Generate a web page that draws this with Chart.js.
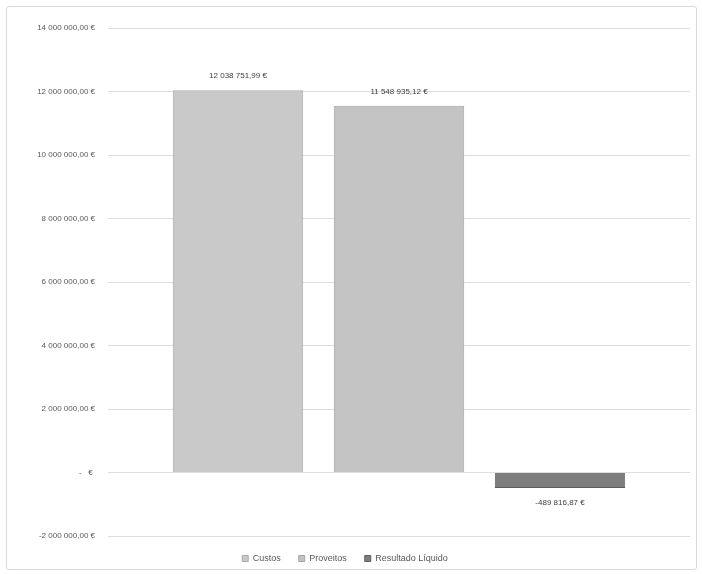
<!DOCTYPE html>
<html>
<head>
<meta charset="utf-8">
<script src="https://cdn.jsdelivr.net/npm/chart.js@4"></script>
<style>
  body { margin: 0; background: #fff; overflow: hidden; }
  #frame { position: absolute; left: 6px; top: 6px; width: 689px; height: 562px; border: 1px solid #d9d9d9; border-radius: 3px; }
  #chart { position: absolute; left: 0; top: 0; display: block; }
</style>
</head>
<body>
<div id="frame"></div>
<canvas id="chart" width="702" height="580"></canvas>
<script>
// series (one value each, single category)
const seriesNames = ['Custos', 'Proveitos', 'Resultado Líquido'];
const seriesValues = [12038751.99, 11548935.12, -489816.87];
const valueLabels = ['12 038 751,99 €', '11 548 935,12 €', '-489 816,87 €'];
const barColors = ['#c9c9c9', '#c3c3c3', '#7d7d7d'];
const barBorders = ['#a9a9a9', '#a3a3a3', '#5e5e5e'];

// y axis ticks
const yTicks = [-2000000, 0, 2000000, 4000000, 6000000, 8000000, 10000000, 12000000, 14000000];
const yTickLabels = ['-2 000 000,00 €', ' -   € ', '2 000 000,00 €', '4 000 000,00 €', '6 000 000,00 €',
  '8 000 000,00 €', '10 000 000,00 €', '12 000 000,00 €', '14 000 000,00 €'];

const datasets = seriesNames.map((name, i) => ({
  label: name,
  data: [seriesValues[i]],
  backgroundColor: barColors[i],
  borderColor: barBorders[i],
  borderWidth: 1,
  categoryPercentage: 0.83,
  barPercentage: 0.81
}));

// draws the value above (or below, if negative) each bar
const valueLabelPlugin = {
  id: 'valueLabels',
  afterDatasetsDraw(chart) {
    const ctx = chart.ctx;
    ctx.save();
    ctx.font = '8px "Liberation Sans", Arial, sans-serif';
    ctx.fillStyle = '#404040';
    ctx.textAlign = 'center';
    chart.data.datasets.forEach((ds, i) => {
      const bar = chart.getDatasetMeta(i).data[0];
      if (seriesValues[i] >= 0) {
        ctx.textBaseline = 'bottom';
        ctx.fillText(valueLabels[i], bar.x, bar.y - 10);
      } else {
        ctx.textBaseline = 'top';
        ctx.fillText(valueLabels[i], bar.x, bar.y + 11);
      }
    });
    ctx.restore();
  }
};

new Chart(document.getElementById('chart'), {
  type: 'bar',
  data: { labels: [''], datasets },
  plugins: [valueLabelPlugin],
  options: {
    responsive: false,
    animation: false,
    layout: { padding: { top: 28, right: 12, left: 0, bottom: 7 } },
    scales: {
      x: { display: false },
      y: {
        min: -2000000,
        max: 14000000,
        afterBuildTicks: axis => { axis.ticks = yTicks.map(v => ({ value: v })); },
        afterFit: axis => { axis.width = 108; },
        border: { display: false },
        grid: { color: '#dedede', drawTicks: false },
        ticks: {
          padding: 13,
          color: '#595959',
          font: { size: 8, family: '"Liberation Sans", Arial, sans-serif' },
          callback: v => yTickLabels[yTicks.indexOf(v)]
        }
      }
    },
    plugins: {
      legend: {
        position: 'bottom',
        labels: {
          boxWidth: 6,
          boxHeight: 6,
          padding: 18,
          color: '#595959',
          font: { size: 9, family: '"Liberation Sans", Arial, sans-serif' }
        }
      },
      tooltip: { enabled: false }
    }
  }
});
</script>
</body>
</html>
